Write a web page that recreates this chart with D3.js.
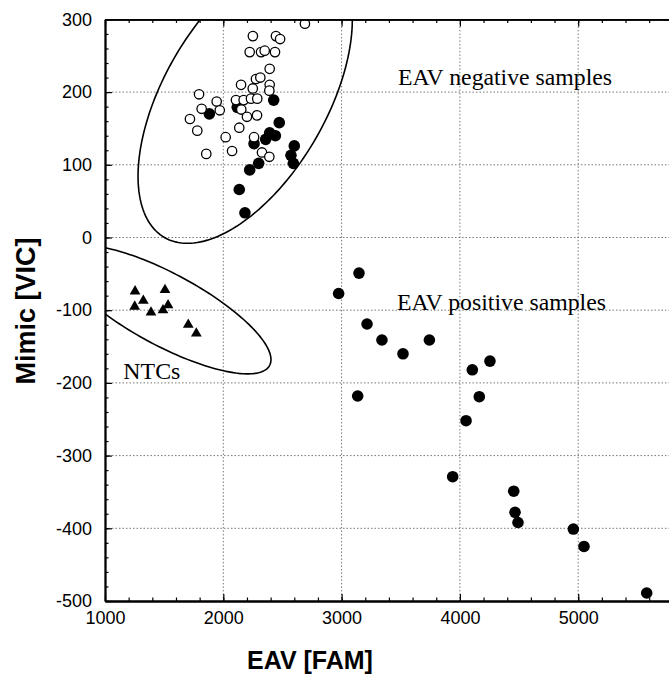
<!DOCTYPE html>
<html>
<head>
<meta charset="utf-8">
<script src="https://cdn.jsdelivr.net/npm/d3@7"></script>
<style>
  body { margin: 0; background: #fff; }
  .tick text { font-family: "Liberation Sans", Arial, sans-serif; font-size: 18px; fill: #000; }
  .note { font-family: "Liberation Serif", "Times New Roman", serif; font-size: 23px; fill: #000; }
  .title { font-family: "Liberation Sans", Arial, sans-serif; font-weight: bold; fill: #000; }
</style>
</head>
<body>
<div id="chart"></div>
<script>
// EAV negative samples (open circles), [FAM, VIC]
const openSamples = [
  [2690, 294], [2250, 277], [2445, 277], [2480, 273], [2223, 255], [2319, 255], [2350, 257],
  [2437, 255], [2392, 232], [2276, 218], [2313, 220], [2150, 210], [2249, 205], [2392, 210],
  [2389, 202], [1795, 197], [1944, 187], [2107, 189], [2172, 189], [2234, 191], [2287, 191],
  [1817, 177], [1970, 175], [2152, 176], [1718, 163], [2200, 166], [2285, 168], [1780, 147],
  [2135, 151], [2020, 138], [2260, 138], [2074, 119], [1856, 115], [2327, 117], [2389, 111]
];

// filled circles
const filledSamples = [
  [2426, 189], [1882, 170], [2118, 179], [2473, 158], [2392, 144], [2358, 135], [2440, 140],
  [2260, 129], [2600, 126], [2572, 113], [2592, 102], [2299, 102], [2223, 93], [2135, 66],
  [2183, 34],
  [3147, -49], [2975, -77], [3215, -119], [3341, -141], [3519, -160], [3742, -141],
  [4105, -182], [4254, -170], [3136, -218], [4164, -219], [4052, -252], [3939, -329],
  [4455, -349], [4466, -378], [4491, -392], [4959, -401], [5049, -425], [5579, -489]
];

// no template controls (triangles)
const ntcSamples = [
  [1254, -74], [1507, -72], [1324, -87], [1251, -95], [1533, -93], [1389, -103],
  [1490, -100], [1704, -120], [1772, -132]
];

// ellipses: centre and two conjugate half-axes, in data units
const ellipses = [
  { center: [2185, 192], a: [763, 0], b: [488, 200] },
  { center: [1511, -99], a: [892, -69], b: [0, 55.5] }
];

const notes = [
  { text: "EAV negative samples", x: 3477, y: 210, len: 214 },
  { text: "EAV positive samples", x: 3468, y: -100, len: 209 },
  { text: "NTCs", x: 1155, y: -195, len: 57 }
];

const xLabelTicks = [1000, 2000, 3000, 4000, 5000];
const yLabelTicks = [-500, -400, -300, -200, -100, 0, 100, 200, 300];

const xDomain = [1000, 6000];
const yDomain = [-500, 300];

const width = 669, height = 676;
const plotLeft = 105, plotTop = 19.4, plotBottom = 601;
const plotRight = plotLeft + 5000 * 0.1183; // runs past the window edge

const svg = d3.select("#chart").append("svg")
    .attr("width", width)
    .attr("height", height);

const x = d3.scaleLinear().domain(xDomain).range([plotLeft, plotRight]);
const y = d3.scaleLinear().domain(yDomain).range([plotBottom, plotTop]);

svg.append("defs").append("clipPath")
    .attr("id", "plot-clip")
    .append("rect")
    .attr("x", plotLeft).attr("y", plotTop)
    .attr("width", plotRight - plotLeft).attr("height", plotBottom - plotTop);

// dotted grid
const grid = svg.append("g");
grid.selectAll(".vgrid")
    .data(d3.range(2000, 6001, 1000))
    .enter().append("line")
    .attr("x1", d => x(d)).attr("x2", d => x(d))
    .attr("y1", plotTop).attr("y2", plotBottom)
    .attr("stroke", "#777").attr("stroke-width", 1)
    .attr("stroke-dasharray", "1.5 2");
grid.selectAll(".hgrid")
    .data(d3.range(-400, 201, 100))
    .enter().append("line")
    .attr("x1", plotLeft).attr("x2", plotRight)
    .attr("y1", d => y(d)).attr("y2", d => y(d))
    .attr("stroke", "#777").attr("stroke-width", 1)
    .attr("stroke-dasharray", "1.5 2");

const plot = svg.append("g").attr("clip-path", "url(#plot-clip)");

// ellipses
const tSteps = d3.range(0, 2 * Math.PI, Math.PI / 90);
const ellipseLine = d3.line().curve(d3.curveLinearClosed);
plot.selectAll(".ellipse")
    .data(ellipses)
    .enter().append("path")
    .attr("class", "ellipse")
    .attr("fill", "none")
    .attr("stroke", "#000")
    .attr("stroke-width", 1.6)
    .attr("d", e => ellipseLine(tSteps.map(t => [
        x(e.center[0] + e.a[0] * Math.cos(t) + e.b[0] * Math.sin(t)),
        y(e.center[1] + e.a[1] * Math.cos(t) + e.b[1] * Math.sin(t))
    ])));

// points
plot.selectAll(".filled")
    .data(filledSamples)
    .enter().append("circle")
    .attr("class", "filled")
    .attr("cx", d => x(d[0])).attr("cy", d => y(d[1]))
    .attr("r", 5.8)
    .attr("fill", "#000");

plot.selectAll(".open")
    .data(openSamples)
    .enter().append("circle")
    .attr("class", "open")
    .attr("cx", d => x(d[0])).attr("cy", d => y(d[1]))
    .attr("r", 4.7)
    .attr("fill", "#fff")
    .attr("stroke", "#000")
    .attr("stroke-width", 1.3);

const tri = d3.symbol().type(d3.symbolTriangle).size(50);
plot.selectAll(".ntc")
    .data(ntcSamples)
    .enter().append("path")
    .attr("class", "ntc")
    .attr("transform", d => `translate(${x(d[0])},${y(d[1])})`)
    .attr("d", tri)
    .attr("fill", "#000");

// annotations
svg.selectAll(".note")
    .data(notes)
    .enter().append("text")
    .attr("class", "note")
    .attr("x", d => x(d.x))
    .attr("y", d => y(d.y))
    .attr("textLength", d => d.len)
    .attr("lengthAdjust", "spacingAndGlyphs")
    .text(d => d.text);

// axes, ticks pointing inward
function styleAxis(g) {
    g.select(".domain").attr("stroke", "#000").attr("stroke-width", 1.8);
    g.selectAll(".tick line").attr("stroke", "#000").attr("stroke-width", 1.2);
}

svg.append("g")
    .attr("transform", `translate(0,${plotBottom})`)
    .call(d3.axisBottom(x).tickValues(d3.range(1000, 6001, 200)).tickSize(-3.5).tickFormat("").tickSizeOuter(0))
    .call(styleAxis);
svg.append("g")
    .attr("transform", `translate(0,${plotBottom})`)
    .call(d3.axisBottom(x).tickValues(xLabelTicks).tickSize(-7).tickPadding(10).tickFormat(d => String(d)).tickSizeOuter(0))
    .call(styleAxis);

svg.append("g")
    .attr("transform", `translate(0,${plotTop})`)
    .call(d3.axisTop(x).tickValues(d3.range(1000, 6001, 200)).tickSize(-3.5).tickFormat("").tickSizeOuter(0))
    .call(styleAxis);
svg.append("g")
    .attr("transform", `translate(0,${plotTop})`)
    .call(d3.axisTop(x).tickValues(xLabelTicks).tickSize(-7).tickFormat("").tickSizeOuter(0))
    .call(styleAxis);

svg.append("g")
    .attr("transform", `translate(${plotLeft},0)`)
    .call(d3.axisLeft(y).tickValues(d3.range(-500, 301, 20)).tickSize(-3.5).tickFormat("").tickSizeOuter(0))
    .call(styleAxis);
svg.append("g")
    .attr("transform", `translate(${plotLeft},0)`)
    .call(d3.axisLeft(y).tickValues(yLabelTicks).tickSize(-7).tickPadding(13).tickFormat(d => String(d)).tickSizeOuter(0))
    .call(styleAxis);

// axis titles
svg.append("text")
    .attr("class", "title")
    .attr("x", 310).attr("y", 669)
    .attr("text-anchor", "middle")
    .attr("font-size", 25)
    .text("EAV [FAM]");

svg.append("text")
    .attr("class", "title")
    .attr("transform", "translate(35,311) rotate(-90)")
    .attr("text-anchor", "middle")
    .attr("font-size", 27)
    .text("Mimic [VIC]");
</script>
</body>
</html>
